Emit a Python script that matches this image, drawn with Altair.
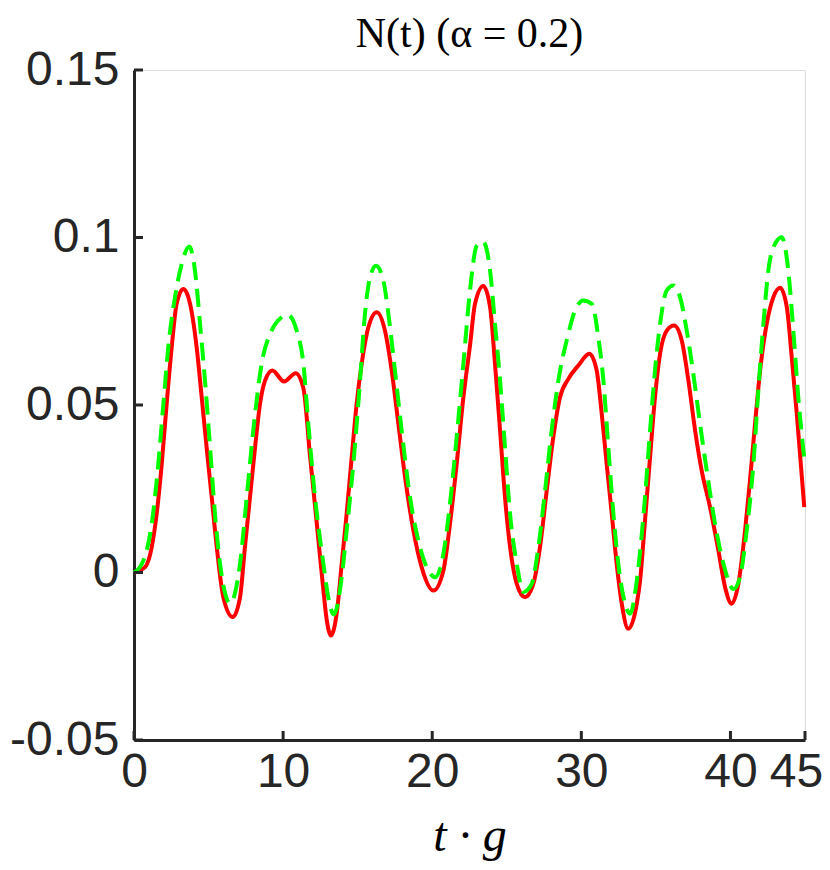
import altair as alt
import pandas as pd

# ---- data ----
t_exact = [0, 0.74, 1.19, 1.52, 1.86, 2.19, 2.53, 2.86, 3.31, 3.76, 4.2, 4.54, 4.87, 5.21, 5.55,
           5.99, 6.62, 7.11, 7.44, 7.78, 8.12, 8.45, 8.79, 9.28, 10.06, 10.84, 11.36, 11.8, 12.25,
           12.65, 12.92, 13.21, 13.59, 13.93, 14.26, 14.6, 14.93, 15.27, 15.72, 16.28, 16.83, 17.28,
           17.73, 18.18, 18.74, 19.29, 20.08, 20.75, 21.19, 21.64, 22.09, 22.54, 22.87, 23.43, 23.88,
           24.21, 24.55, 24.88, 25.22, 25.67, 26.22, 26.78, 27.23, 27.68, 28.12, 28.57, 29.13, 29.8,
           30.54, 31.03, 31.37, 31.7, 32.04, 32.37, 32.71, 33.15, 33.72, 33.94, 34.27, 34.61, 34.94,
           35.28, 35.73, 36.22, 36.73, 37.18, 37.63, 38.07, 38.63, 39.19, 39.64, 40.08, 40.53, 40.98,
           41.31, 41.65, 41.99, 42.43, 42.88, 43.33, 43.78, 44.11, 44.45, 44.95]
n_exact = [0, 0.0016, 0.0076, 0.0175, 0.0324, 0.0503, 0.0673, 0.0802, 0.0846, 0.0802, 0.0673,
           0.0523, 0.0374, 0.0225, 0.0076, -0.0074, -0.0133, -0.0074, 0.0076, 0.0225, 0.0374,
           0.0503, 0.0573, 0.0603, 0.0570, 0.0595, 0.0550, 0.0350, 0.0150, -0.0030, -0.0140,
           -0.0188, -0.0123, 0.0026, 0.0175, 0.0344, 0.0503, 0.0623, 0.0732, 0.0777, 0.0722,
           0.0603, 0.0444, 0.0284, 0.0125, 0.0016, -0.0054, 0.0006, 0.0145, 0.0324, 0.0523,
           0.0680, 0.0802, 0.0855, 0.0792, 0.0623, 0.0424, 0.0225, 0.0076, -0.0034, -0.0074,
           -0.0034, 0.0076, 0.0245, 0.0404, 0.0523, 0.0578, 0.0618, 0.0653, 0.0603, 0.0473,
           0.0324, 0.0175, 0.0026, -0.0093, -0.0168, -0.0093, -0.0024, 0.0155, 0.0344, 0.0523,
           0.0653, 0.0722, 0.0737, 0.0693, 0.0573, 0.0424, 0.0304, 0.0195, 0.0066, -0.0044,
           -0.0093, -0.0034, 0.0125, 0.0275, 0.0444, 0.0603, 0.0742, 0.0822, 0.0850, 0.0792,
           0.0643, 0.0474, 0.0195]

t_approx = [0, 0.63, 1.19, 1.63, 1.97, 2.3, 2.75, 3.2, 3.71, 4.09, 4.43, 4.76, 5.1, 5.43, 5.77,
            6.45, 7.11, 7.56, 8.0, 8.56, 9.23, 9.9, 10.3, 10.91, 11.36, 11.69, 12.14, 12.7, 13.03,
            13.4, 13.93, 14.26, 14.71, 15.16, 15.49, 15.83, 16.23, 16.72, 17.06, 17.5, 17.95,
            18.51, 19.18, 19.74, 20.19, 20.75, 21.19, 21.64, 22.09, 22.54, 22.98, 23.4, 23.88,
            24.21, 24.55, 24.88, 25.22, 25.67, 26.11, 26.67, 27.12, 27.57, 28.01, 28.46, 29.02,
            29.58, 30.14, 30.7, 31.14, 31.48, 31.81, 32.15, 32.48, 32.93, 33.27, 33.72, 34.27,
            34.61, 34.94, 35.28, 35.73, 36.17, 36.62, 37.07, 37.51, 37.96, 38.41, 38.97, 39.53,
            40.2, 40.64, 41.09, 41.54, 41.87, 42.21, 42.54, 42.99, 43.44, 43.88, 44.22, 44.55,
            44.95]
n_approx = [0, 0.0036, 0.0145, 0.0324, 0.0503, 0.0673, 0.0822, 0.0921, 0.0973, 0.0901, 0.0742,
            0.0573, 0.0374, 0.0175, 0.0026, -0.0092, 0.0026, 0.0225, 0.0424, 0.0623, 0.0722,
            0.0762, 0.0770, 0.0722, 0.0623, 0.0444, 0.0225, 0.0026, -0.0074, -0.0125, -0.0014,
            0.0125, 0.0324, 0.0573, 0.0772, 0.0881, 0.0916, 0.0872, 0.0772, 0.0603, 0.0424,
            0.0225, 0.0076, 0.0006, -0.0014, 0.0056, 0.0205, 0.0404, 0.0623, 0.0845, 0.0975,
            0.0988, 0.0901, 0.0742, 0.0573, 0.0374, 0.0175, 0.0026, -0.0058, -0.0034, 0.0076,
            0.0245, 0.0424, 0.0573, 0.0693, 0.0782, 0.0812, 0.0802, 0.0702, 0.0573, 0.0374,
            0.0175, 0.0026, -0.0093, -0.0123, -0.0024, 0.0225, 0.0424, 0.0603, 0.0742, 0.0842,
            0.0857, 0.0822, 0.0722, 0.0593, 0.0444, 0.0304, 0.0145, 0.0026, -0.0049, -0.0014,
            0.0125, 0.0324, 0.0543, 0.0742, 0.0901, 0.0981, 0.1001, 0.0901, 0.0722, 0.0523,
            0.0340]

x_ticks = [0, 10, 20, 30, 40, 45]
y_ticks = [-0.05, 0, 0.05, 0.1, 0.15]

title_text = "N(t) (α = 0.2)"
x_title = "t · g"

AX = "#262626"
W, H = 671, 670

exact_df = pd.DataFrame({"t": t_exact, "v": n_exact})
approx_df = pd.DataFrame({"t": t_approx, "v": n_approx})
xt_df = pd.DataFrame({"t": x_ticks})
yt_df = pd.DataFrame({"v": y_ticks})

x_axis = alt.Axis(values=x_ticks, ticks=False, tickSize=0, grid=False, domainColor=AX,
                  domainWidth=3, labelFont="Liberation Sans", labelFontSize=48, labelColor=AX,
                  labelPadding=8, labelFlush=False, labelOverlap=False, labelBound=False,
                  labelOffset={"condition": {"test": "datum.value == 45", "value": -9}, "value": 0},
                  title=x_title, titleFont="Liberation Serif", titleFontStyle="italic",
                  titleFontWeight="normal", titleFontSize=48, titleColor="black", titlePadding=16)
y_axis = alt.Axis(values=y_ticks, ticks=False, tickSize=0, grid=False, domainColor=AX,
                  domainWidth=3, labelFont="Liberation Sans", labelFontSize=48, labelColor=AX,
                  labelPadding=15, labelOverlap=False, labelBound=False,
                  labelExpr="'' + datum.value", title=None)

xs = alt.Scale(domain=[0, 45], nice=False, zero=False)
ys = alt.Scale(domain=[-0.05, 0.15], nice=False, zero=False)

x_enc = alt.X("t:Q", scale=xs, axis=x_axis)
y_enc = alt.Y("v:Q", scale=ys, axis=y_axis)

red = alt.Chart(exact_df).mark_line(color="#ff0000", strokeWidth=4, interpolate="monotone").encode(
    x=x_enc, y=y_enc)
green = alt.Chart(approx_df).mark_line(color="#00ff00", strokeWidth=4, strokeDash=[18, 9],
                                       interpolate="monotone").encode(x=x_enc, y=y_enc)
xticks = alt.Chart(xt_df).mark_rule(color=AX, strokeWidth=3).encode(
    x=x_enc, y=alt.value(H), y2=alt.value(H - 9))
yticks = alt.Chart(yt_df).mark_rule(color=AX, strokeWidth=3).encode(
    y=y_enc, x=alt.value(0), x2=alt.value(9))

chart = alt.layer(red, green, xticks, yticks).properties(
    width=W, height=H,
    title=alt.TitleParams(title_text, font="Liberation Serif", fontSize=42, fontWeight="normal",
                          color="black", anchor="middle", offset=0, dy=10),
    autosize="none",
    padding={"left": 126, "top": 62, "right": 17, "bottom": 122},
).configure_view(strokeWidth=0).configure(background="white")

chart.save("out.html", embed_options={"renderer": "svg", "actions": False})
